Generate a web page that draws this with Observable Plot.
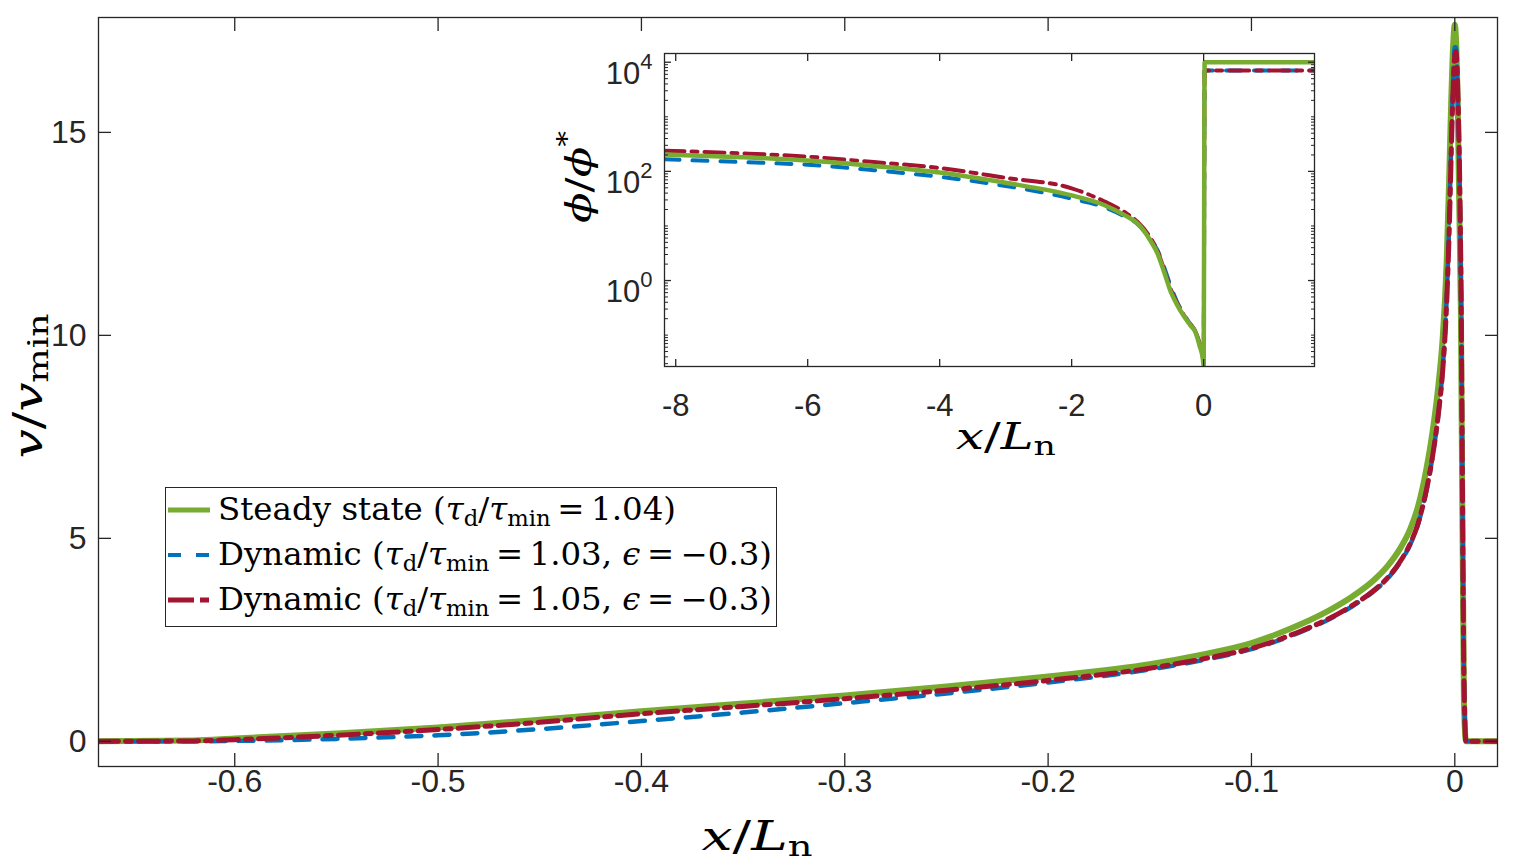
<!DOCTYPE html>
<html>
<head>
<meta charset="utf-8">
<script src="https://cdn.jsdelivr.net/npm/d3@7"></script>
<script src="https://cdn.jsdelivr.net/npm/@observablehq/plot@0.6"></script>
<style>
  html, body { margin: 0; padding: 0; background: #fff; }
  #wrap { position: relative; width: 1522px; height: 867px; overflow: hidden; background: #fff; }
  #inset { position: absolute; left: 574px; top: 43px; }
  #legend { position: absolute; left: 165px; top: 487px; width: 612px; height: 140px; box-sizing: border-box;
            border: 1.3px solid #262626; background: #fff; font-family: "DejaVu Serif", "Liberation Serif", serif;
            font-size: 31px; color: #000; }
  #legend .row { position: absolute; left: 0; height: 45px; display: flex; align-items: center; white-space: nowrap; }
  #legend svg { flex: none; }
  #legend span { margin-left: 6px; line-height: 45px; display: inline-block; transform-origin: 0 50%; }
  #legend sub { font-size: 0.7em; vertical-align: -0.28em; line-height: 0; font-style: normal; }
  #legend i { font-style: italic; }
</style>
</head>
<body>
<div id="wrap"></div>
<script>
// ---------------- data ----------------
// main panel: x / L_n  and  v / v_min
const mainX    = [-0.667, -0.62, -0.6, -0.55, -0.5, -0.45, -0.4, -0.35, -0.3, -0.25, -0.2, -0.15, -0.125, -0.1, -0.088, -0.075, -0.062, -0.05, -0.04, -0.033, -0.027, -0.022, -0.018, -0.014, -0.011, -0.008, -0.006, -0.004, -0.0028, -0.0018, -0.0008, 0, 0.0005, 0.0015, 0.003, 0.0045, 0.0055, 0.021];
const steadyV  = [0.0, 0.02, 0.07, 0.19, 0.34, 0.53, 0.74, 0.93, 1.13, 1.35, 1.6, 1.9, 2.13, 2.42, 2.63, 2.9, 3.22, 3.58, 3.96, 4.32, 4.74, 5.22, 5.8, 6.7, 7.6, 8.8, 9.9, 11.8, 13.8, 15.7, 17.15, 17.65, 17.4, 15.5, 10.6, 1.0, 0.0, 0.0];
const dyn103V  = [0.0, 0.0, 0.01, 0.06, 0.15, 0.3, 0.5, 0.71, 0.94, 1.18, 1.45, 1.77, 1.99, 2.27, 2.46, 2.71, 3.0, 3.34, 3.69, 4.01, 4.4, 4.84, 5.36, 6.17, 7.0, 8.1, 9.15, 10.9, 12.7, 14.6, 16.3, 17.1, 17.1, 15.8, 11.3, 1.5, 0.0, 0.0];
const dyn105V  = [0.0, 0.01, 0.04, 0.15, 0.29, 0.47, 0.68, 0.86, 1.05, 1.26, 1.5, 1.8, 2.02, 2.29, 2.48, 2.73, 3.02, 3.36, 3.71, 4.03, 4.42, 4.86, 5.38, 6.18, 7.0, 8.1, 9.1, 10.8, 12.5, 14.4, 16.1, 16.9, 17.0, 16.0, 11.5, 1.6, 0.0, 0.0];
const mainXTicks = [-0.6, -0.5, -0.4, -0.3, -0.2, -0.1, 0];
const mainYTicks = [0, 5, 10, 15];

// inset: x / L_n  and  phi / phi*
const insetX     = [-8.17, -7, -6, -5, -4, -3, -2, -1.5, -1.2, -1, -0.8, -0.7, -0.6, -0.5, -0.4, -0.3, -0.2, -0.13, -0.06, -0.01, 0, 0.015, 1.68];
const steadyPhi  = [204, 182, 158, 126, 95.5, 61.7, 36.3, 24.0, 15.8, 11.0, 5.25, 3.16, 1.45, 0.63, 0.355, 0.224, 0.151, 0.117, 0.063, 0.035, 0.027, 10000, 10000];
const dyn103Phi  = [166, 148, 132, 105, 79.4, 54, 31.6, 22, 15, 10.8, 5.6, 3.6, 1.78, 0.79, 0.40, 0.24, 0.158, 0.12, 0.071, 0.04, 0.03, 7080, 7080];
const dyn105Phi  = [240, 214, 186, 148, 115, 76, 49, 28, 18, 11.8, 5.9, 3.5, 1.6, 0.7, 0.38, 0.234, 0.158, 0.12, 0.071, 0.04, 0.03, 7080, 7080];
const insetXTicks = [-8, -6, -4, -2, 0];
const insetYTicks = [1, 100, 10000];
const insetYMinor = [0.03, 0.04, 0.05, 0.06, 0.07, 0.08, 0.09, 0.1, 0.2, 0.3, 0.4, 0.5, 0.6, 0.7, 0.8, 0.9,
                     2, 3, 4, 5, 6, 7, 8, 9, 10, 20, 30, 40, 50, 60, 70, 80, 90,
                     200, 300, 400, 500, 600, 700, 800, 900, 1000, 2000, 3000, 4000, 5000, 6000, 7000, 8000, 9000];

const colors = ["#77AC30", "#0072BD", "#A2142F"];
const legendLabels = [
  'Steady state (<i>τ</i><sub>d</sub>/<i>τ</i><sub>min</sub>&#8201;=&#8201;1.04)',
  'Dynamic (<i>τ</i><sub>d</sub>/<i>τ</i><sub>min</sub>&#8201;=&#8201;1.03, <i>ϵ</i>&#8201;=&#8201;−0.3)',
  'Dynamic (<i>τ</i><sub>d</sub>/<i>τ</i><sub>min</sub>&#8201;=&#8201;1.05, <i>ϵ</i>&#8201;=&#8201;−0.3)'
];
const legendWidths = [458, 554, 554];

// ---------------- styles ----------------
const axisColor = "#262626";
const dashBlue = "15,13";
const dashRed = "20,7,6,7";
const fmt = d => String(d);

const rowsOf = (xs, vs) => xs.map((x, i) => ({x, v: vs[i]}));

// ---------------- main plot ----------------
const main = Plot.plot({
  width: 1522, height: 867,
  marginLeft: 98, marginRight: 25, marginTop: 17, marginBottom: 101,
  style: {fontFamily: "'Liberation Sans', Arial, Helvetica, sans-serif", color: axisColor, background: "white", overflow: "visible"},
  x: {domain: [-0.667, 0.021]},
  y: {domain: [-0.62, 17.83]},
  marks: [
    Plot.line(rowsOf(mainX, steadyV), {x: "x", y: "v", stroke: colors[0], strokeWidth: 6, curve: "monotone-x", clip: true}),
    Plot.line(rowsOf(mainX, dyn103V), {x: "x", y: "v", stroke: colors[1], strokeWidth: 4.5, strokeDasharray: dashBlue, curve: "monotone-x", clip: true}),
    Plot.line(rowsOf(mainX, dyn105V), {x: "x", y: "v", stroke: colors[2], strokeWidth: 5, strokeDasharray: dashRed, curve: "monotone-x", clip: true}),
    Plot.frame({stroke: axisColor, strokeWidth: 1.3}),
    Plot.axisX({anchor: "bottom", ticks: mainXTicks, tickSize: -13, tickPadding: 16, tickFormat: fmt, fontSize: 32, label: null, strokeWidth: 1.3}),
    Plot.axisX({anchor: "top", ticks: mainXTicks, tickSize: -13, tickFormat: () => "", label: null, strokeWidth: 1.3}),
    Plot.axisY({anchor: "left", ticks: mainYTicks, tickSize: -13, tickPadding: 25, tickFormat: fmt, fontSize: 32, label: null, strokeWidth: 1.3}),
    Plot.axisY({anchor: "right", ticks: mainYTicks, tickSize: -13, tickFormat: () => "", label: null, strokeWidth: 1.3})
  ]
});

// ---------------- inset plot ----------------
const inset = Plot.plot({
  width: 750, height: 380,
  marginLeft: 90, marginRight: 10, marginTop: 10, marginBottom: 57,
  style: {fontFamily: "'Liberation Sans', Arial, Helvetica, sans-serif", color: axisColor, background: "transparent", overflow: "visible"},
  x: {domain: [-8.17, 1.68]},
  y: {type: "log", domain: [0.0266, 14450]},
  marks: [
    Plot.frame({fill: "white", stroke: null}),
    Plot.line(rowsOf(insetX, dyn103Phi), {x: "x", y: "v", stroke: colors[1], strokeWidth: 4, strokeDasharray: dashBlue, curve: "monotone-x", clip: true}),
    Plot.line(rowsOf(insetX, dyn105Phi), {x: "x", y: "v", stroke: colors[2], strokeWidth: 4, strokeDasharray: dashRed, curve: "monotone-x", clip: true}),
    Plot.line(rowsOf(insetX, steadyPhi), {x: "x", y: "v", stroke: colors[0], strokeWidth: 4.5, curve: "monotone-x", clip: true}),
    Plot.frame({stroke: axisColor, strokeWidth: 1.3}),
    Plot.axisX({anchor: "bottom", ticks: insetXTicks, tickSize: -7, tickPadding: 34, tickFormat: fmt, fontSize: 31, label: null, strokeWidth: 1.3}),
    Plot.axisX({anchor: "top", ticks: insetXTicks, tickSize: -7, tickFormat: () => "", label: null, strokeWidth: 1.3}),
    Plot.axisY({anchor: "left", ticks: insetYTicks, tickSize: -7, tickPadding: 19, tickFormat: d => "10^" + Math.round(Math.log10(d)), fontSize: 31, label: null, strokeWidth: 1.3}),
    Plot.axisY({anchor: "right", ticks: insetYTicks, tickSize: -7, tickFormat: () => "", label: null, strokeWidth: 1.3}),
    Plot.axisY({anchor: "left", ticks: insetYMinor, tickSize: -4, tickFormat: () => "", label: null, strokeWidth: 1}),
    Plot.axisY({anchor: "right", ticks: insetYMinor, tickSize: -4, tickFormat: () => "", label: null, strokeWidth: 1})
  ]
});
inset.setAttribute("id", "inset");

const wrap = document.getElementById("wrap");
wrap.appendChild(main);
wrap.appendChild(inset);

// superscript powers on the inset log axis
d3.select(inset).selectAll('g[aria-label="y-axis tick label"] text').each(function() {
  const t = d3.select(this);
  const s = t.text();
  if (!s.startsWith("10^")) return;
  const p = s.slice(3);
  t.text("");
  t.append("tspan").text("10");
  t.append("tspan").attr("font-size", 22).attr("dy", "-0.7em").text(p);
  const tr = t.attr("transform") || "";
  t.attr("transform", tr + " translate(0,12)");
});

// axis titles (LaTeX-like)
const serif = "'DejaVu Serif', 'Liberation Serif', serif";
function addLabel(svg, x, y, rotate, size, len, parts) {
  const t = d3.select(svg).append("text")
    .attr("transform", `translate(${x},${y})` + (rotate ? ` rotate(${rotate})` : ""))
    .attr("text-anchor", "middle")
    .attr("font-family", serif)
    .attr("font-size", size)
    .attr("textLength", len)
    .attr("lengthAdjust", "spacingAndGlyphs")
    .attr("fill", "#000");
  for (const [txt, kind] of parts) {
    const sp = t.append("tspan").text(txt);
    if (kind === "i") sp.attr("font-style", "italic");
    if (kind === "sub") sp.attr("font-size", size * 0.7).attr("dy", size * 0.15);
    if (kind === "sup") sp.attr("font-size", size * 0.7).attr("dy", -size * 0.42);
  }
  return t;
}
addLabel(main, 757, 850, 0, 41, 111, [["x", "i"], ["/", ""], ["L", "i"], ["n", "sub"]]);
addLabel(main, 42, 386, -90, 41, 145, [["v", "i"], ["/", ""], ["v", "i"], ["min", "sub"]]);
addLabel(inset, 432, 406, 0, 38, 100, [["x", "i"], ["/", ""], ["L", "i"], ["n", "sub"]]);
addLabel(inset, 17, 134, -90, 36, 92, [["ϕ", "i"], ["/", ""], ["ϕ", "i"], ["*", "sup"]]);

// legend
const legend = document.createElement("div");
legend.id = "legend";
const dashes = [null, "13,15", "26,6,9,6"];
const widths = [5, 4, 5];
const spans = [];
legendLabels.forEach((lab, i) => {
  const row = document.createElement("div");
  row.className = "row";
  row.style.top = (i * 45 - 1) + "px";
  const ns = "http://www.w3.org/2000/svg";
  const s = document.createElementNS(ns, "svg");
  s.setAttribute("width", 46); s.setAttribute("height", 20);
  const ln = document.createElementNS(ns, "line");
  ln.setAttribute("x1", 2); ln.setAttribute("x2", 44); ln.setAttribute("y1", 10); ln.setAttribute("y2", 10);
  ln.setAttribute("stroke", colors[i]); ln.setAttribute("stroke-width", widths[i]);
  if (dashes[i]) ln.setAttribute("stroke-dasharray", dashes[i]);
  s.appendChild(ln);
  const sp = document.createElement("span");
  sp.innerHTML = lab;
  row.appendChild(s); row.appendChild(sp);
  legend.appendChild(row);
  spans.push(sp);
});
wrap.appendChild(legend);
spans.forEach((sp, i) => {
  const w = sp.getBoundingClientRect().width;
  if (w > 0) sp.style.transform = `scaleX(${legendWidths[i] / w})`;
});
</script>
</body>
</html>
